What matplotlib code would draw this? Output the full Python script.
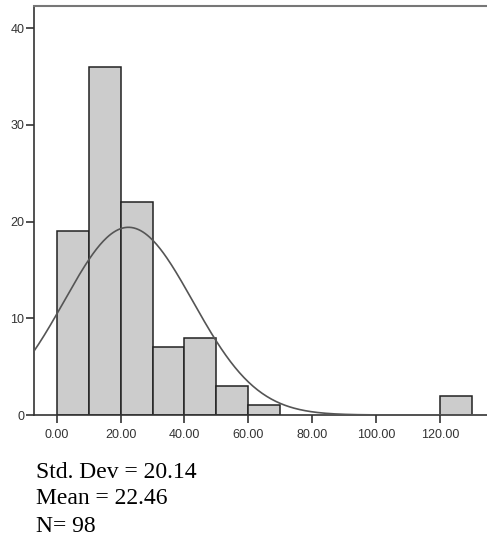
import matplotlib
matplotlib.use("Agg")
import matplotlib.pyplot as plt
import numpy as np

# histogram data (left edge of each bin)
bin_starts = [0, 10, 20, 30, 40, 50, 60, 120]
counts = [19, 36, 22, 7, 8, 3, 1, 2]
bin_width = 10
mean_val = 22.46
std_val = 20.14
n_obs = 98
xticks = [0, 20, 40, 60, 80, 100, 120]
yticks = [0, 10, 20, 30, 40]

fig = plt.figure(figsize=(4.87, 5.42), dpi=100)
ax = fig.add_axes([34 / 487, 127 / 542, 453 / 487, 409 / 542])

ax.bar(bin_starts, counts, width=bin_width, align="edge",
       color="#cccccc", edgecolor="#222222", linewidth=1.1, zorder=2)

# fitted normal curve
x = np.linspace(-7.1, 134.7, 400)
y = n_obs * bin_width / (std_val * np.sqrt(2 * np.pi)) * np.exp(-0.5 * ((x - mean_val) / std_val) ** 2)
ax.plot(x, y, color="#555555", linewidth=1.2, zorder=3)

ax.set_xlim(-7.1, 134.7)
ax.set_ylim(0, 42.3)
ax.set_xticks(xticks)
ax.set_xticklabels([f"{t:.2f}" for t in xticks])
ax.set_yticks(yticks)

for s in ["left", "bottom"]:
    ax.spines[s].set_color("#333333")
    ax.spines[s].set_linewidth(1.2)
ax.spines["top"].set_color("#777777")
ax.spines["top"].set_linewidth(1.5)
ax.spines["right"].set_visible(False)

ax.tick_params(direction="out", length=6, width=1.2, color="#333333",
               labelsize=9, labelcolor="#333333", pad=4)
for lab in ax.get_xticklabels() + ax.get_yticklabels():
    lab.set_fontfamily("Liberation Sans")
ax.tick_params(axis="y", pad=1)

stats = ["Std. Dev = 20.14", "Mean = 22.46", "N= 98"]
for i, line in enumerate(stats):
    fig.text(36 / 487, 1 - (472 + i * 27) / 542, line, fontsize=17,
             family="Liberation Serif", va="center", ha="left", color="black")

fig.savefig("out.png", dpi=100)
